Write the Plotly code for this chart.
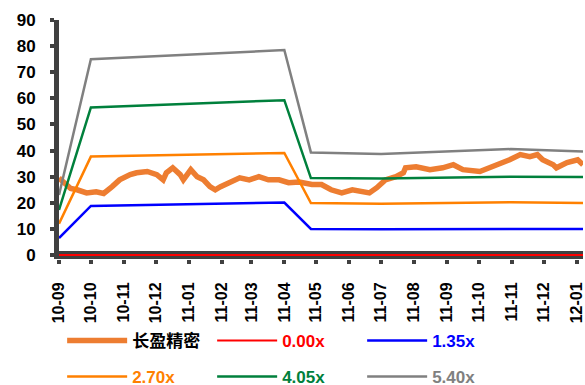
import plotly.graph_objects as go

# ---- data ----
month_ticks = ["2010-09-01", "2010-10-01", "2010-11-01", "2010-12-01", "2011-01-01",
               "2011-02-01", "2011-03-01", "2011-04-01", "2011-05-01", "2011-06-01",
               "2011-07-01", "2011-08-01", "2011-09-01", "2011-10-01", "2011-11-01",
               "2011-12-01", "2012-01-01"]
tick_labels = ["10-09", "10-10", "10-11", "10-12", "11-01", "11-02", "11-03", "11-04",
               "11-05", "11-06", "11-07", "11-08", "11-09", "11-10", "11-11", "11-12", "12-01"]

price_dates = ["2010-09-01", "2010-09-06", "2010-09-12", "2010-09-18", "2010-09-27",
               "2010-10-06", "2010-10-13", "2010-10-21", "2010-10-28", "2010-11-07",
               "2010-11-13", "2010-11-23", "2010-12-02", "2010-12-08", "2010-12-11",
               "2010-12-17", "2010-12-24", "2010-12-27", "2011-01-03", "2011-01-09",
               "2011-01-15", "2011-01-21", "2011-01-26", "2011-01-31", "2011-02-09",
               "2011-02-18", "2011-02-27", "2011-03-08", "2011-03-17", "2011-03-27",
               "2011-04-05", "2011-04-15", "2011-04-27", "2011-05-06", "2011-05-15",
               "2011-05-25", "2011-06-04", "2011-06-13", "2011-06-20", "2011-06-27",
               "2011-07-05", "2011-07-15", "2011-07-22", "2011-07-24", "2011-08-03",
               "2011-08-16", "2011-08-28", "2011-09-07", "2011-09-16", "2011-10-02",
               "2011-10-11", "2011-10-21", "2011-10-30", "2011-11-09", "2011-11-18",
               "2011-11-25", "2011-11-30", "2011-12-10", "2011-12-13", "2011-12-23",
               "2012-01-02", "2012-01-07"]
price_values = [29.5, 27.5, 25.5, 25.0, 23.8,
                24.2, 23.6, 26.2, 28.8, 30.8,
                31.5, 32.0, 30.8, 28.8, 31.5,
                33.4, 30.8, 28.8, 32.7, 30.0,
                28.8, 26.2, 25.0, 26.2, 28.0,
                29.6, 28.8, 30.0, 28.8, 28.8,
                27.7, 28.0, 27.0, 27.0, 25.0,
                23.8, 25.0, 24.2, 23.8, 25.8,
                28.8, 30.0, 31.5, 33.4, 33.8,
                32.7, 33.4, 34.6, 32.7, 32.0,
                33.4, 35.4, 36.5, 38.5, 37.7,
                38.5, 36.5, 34.6, 33.4, 35.4,
                36.5, 34.6]

band_dates = ["2010-09-01", "2010-10-01", "2011-04-01", "2011-04-26",
              "2011-07-01", "2011-10-31", "2012-01-07"]
band_000 = [0, 0, 0, 0, 0, 0, 0]
band_135 = [6.5, 18.8, 20.1, 10.0, 9.9, 10.1, 10.0]
band_270 = [12.0, 37.7, 39.1, 19.9, 19.7, 20.2, 19.9]
band_405 = [17.3, 56.5, 59.3, 29.5, 29.3, 30.0, 29.9]
band_540 = [23.0, 75.0, 78.5, 39.3, 38.7, 40.6, 39.7]

stock_name = "长盈精密"
band_names = ["0.00x", "1.35x", "2.70x", "4.05x", "5.40x"]
band_colors = ["#FF0000", "#0000FF", "#FF8000", "#00803C", "#808080"]
band_series = [band_000, band_135, band_270, band_405, band_540]
band_widths = [2, 2.5, 2.5, 2.5, 2.5]
band_legends = ["legend", "legend", "legend2", "legend2", "legend2"]

fig = go.Figure()
fig.add_trace(go.Scatter(
    x=price_dates, y=price_values, mode="lines", name=stock_name,
    line=dict(color="#ED7D31", width=5.5), legend="legend"))
for nm, col, vals, w, lg in zip(band_names, band_colors, band_series, band_widths, band_legends):
    fig.add_trace(go.Scatter(
        x=band_dates, y=vals, mode="lines",
        name=f'<span style="color:{col}">{nm}</span>',
        line=dict(color=col, width=w), legend=lg))

legend_font = dict(family="Liberation Sans, Arial, Noto Sans CJK SC", size=17,
                   color="black", weight="bold")
legend_common = dict(orientation="h", x=0.006, xanchor="left", yanchor="middle",
                     font=legend_font, itemwidth=60, entrywidth=75,
                     entrywidthmode="pixels", bgcolor="rgba(0,0,0,0)", tracegroupgap=0)
fig.update_layout(
    width=585, height=385,
    margin=dict(l=59, r=2, t=20, b=126, autoexpand=False),
    paper_bgcolor="white", plot_bgcolor="white",
    showlegend=True,
    legend=dict(y=-0.343, **legend_common),
    legend2=dict(y=-0.494, **legend_common),
    xaxis=dict(type="date", range=["2010-09-01", "2012-01-07"],
               tickmode="array", tickvals=month_ticks, ticktext=tick_labels,
               tickangle=-90, ticks="outside", ticklen=4, tickwidth=4,
               tickcolor="#404040", showgrid=False, showline=False, zeroline=False,
               ticklabelstandoff=12,
               tickfont=dict(family="Liberation Sans, Arial", size=16, color="black",
                             weight="bold")),
    yaxis=dict(range=[-1.5, 90], tickmode="array", tickvals=list(range(0, 91, 10)),
               ticks="outside", ticklen=4, tickwidth=4, tickcolor="#404040",
               showline=True, linecolor="#404040", linewidth=5, layer="below traces",
               showgrid=False, zeroline=True, zerolinecolor="#404040", zerolinewidth=8,
               ticklabelstandoff=11,
               tickfont=dict(family="Liberation Sans, Arial", size=17, color="black",
                             weight="bold")),
)

fig.write_html("out.html")
